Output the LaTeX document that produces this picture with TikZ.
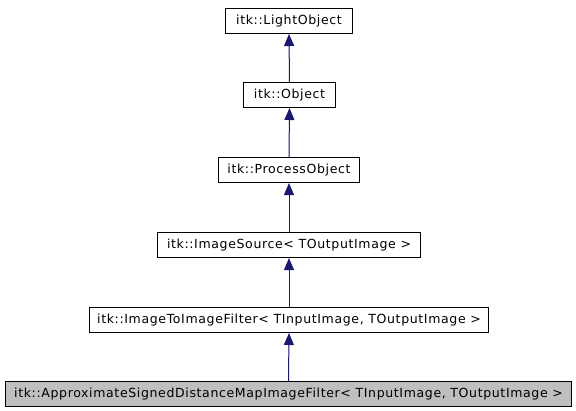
\documentclass[tikz,border=0pt]{standalone}
\usepackage{fontspec}
\setmainfont{DejaVu Sans}
\newfontfamily\boxfont[LetterSpace=5]{DejaVu Sans}
\usetikzlibrary{arrows.meta}
\definecolor{edgecol}{HTML}{191970}
\definecolor{hl}{HTML}{BFBFBF}
\begin{document}
\begin{tikzpicture}[x=0.75pt,y=-0.75pt,
  cls/.style={draw=black,line width=0.75pt,inner sep=0pt,minimum height=18.75pt,font=\boxfont\fontsize{9.4}{11}\selectfont,anchor=north west,fill=white},
  inh/.style={draw=edgecol,line width=0.75pt,-{Triangle[width=7.5pt,length=9pt]},fill=edgecol}]
\useasboundingbox (0,0) rectangle (576,411);
\node[cls,minimum width=95.25pt] (lo) at (225,8) {itk::LightObject};
\node[cls,minimum width=69pt] (ob) at (243,82) {itk::Object};
\node[cls,minimum width=105.75pt] (po) at (218,157) {itk::ProcessObject};
\node[cls,minimum width=197.25pt] (is) at (157,232) {itk::ImageSource< TOutputImage >};
\node[cls,minimum width=299.25pt] (ii) at (89,307) {itk::ImageToImageFilter< TInputImage, TOutputImage >};
\node[cls,fill=hl,minimum width=424.5pt] (ap) at (5,381) {itk::ApproximateSignedDistanceMapImageFilter< TInputImage, TOutputImage >};
\draw[inh] (ob.north) -- (lo.south);
\draw[inh] (po.north) -- (ob.south);
\draw[inh] (is.north) -- (po.south);
\draw[inh] (ii.north) -- (is.south);
\draw[inh] (ap.north) -- (ii.south);
\end{tikzpicture}
\end{document}
